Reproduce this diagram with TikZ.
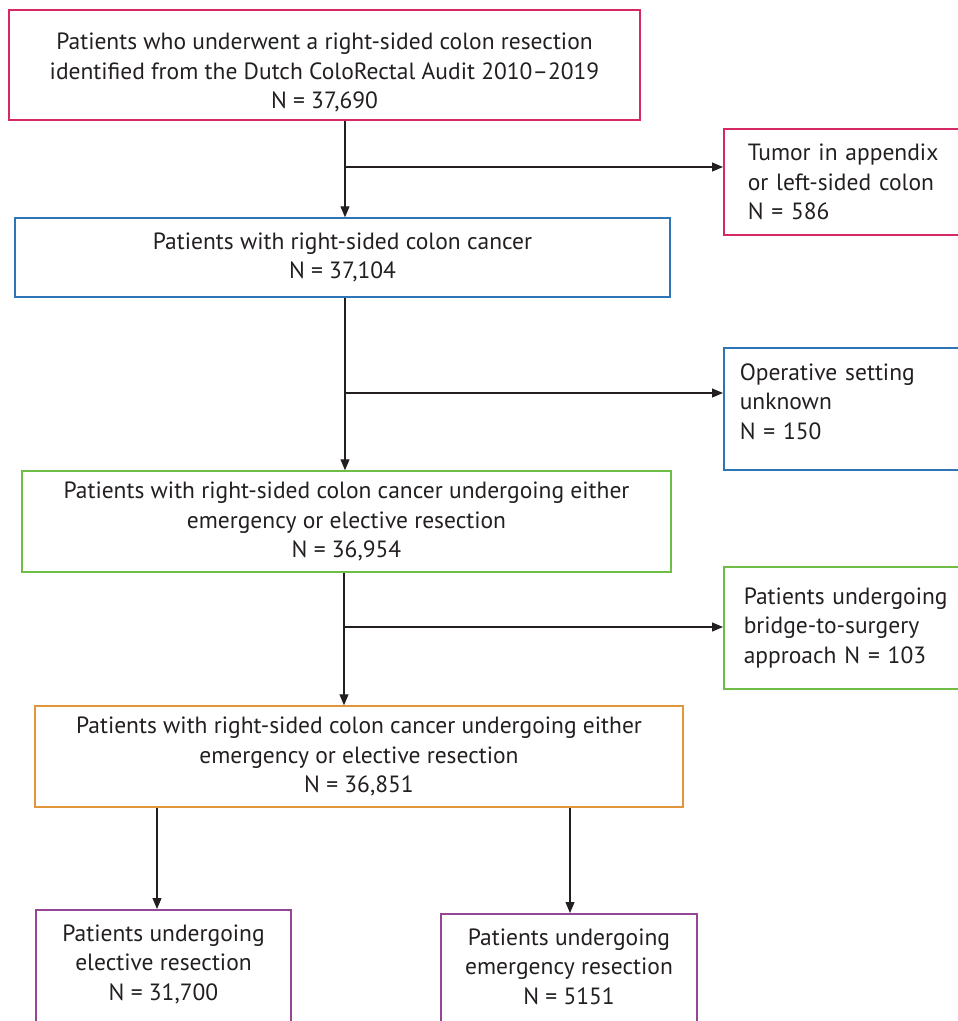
\documentclass[tikz,border=0pt]{standalone}
\usepackage{fontspec}
\setmainfont{PT Sans}
\usetikzlibrary{arrows.meta}

\definecolor{audred}{RGB}{214,40,100}
\definecolor{audblue}{RGB}{46,117,182}
\definecolor{audgreen}{RGB}{110,190,70}
\definecolor{audorange}{RGB}{226,150,60}
\definecolor{audpurple}{RGB}{150,70,150}
\definecolor{inkgrey}{RGB}{35,31,32}

\tikzset{
  flowbox/.style={draw, line width=1.5pt, align=center, inner sep=0pt,
    text=inkgrey, font=\fontsize{23.5}{29.5}\selectfont},
  sidebox/.style={flowbox, anchor=west, align=left, minimum width=300pt},
  lowbox/.style={flowbox, anchor=north, text depth=80pt, inner ysep=15pt},
  arr/.style={draw=inkgrey, line width=1.2pt, -{Triangle[length=11pt,width=9pt]}},
  branch/.style={draw=inkgrey, line width=1.2pt}
}

\begin{document}
\begin{tikzpicture}[x=1pt,y=-1pt]
    \useasboundingbox (0,0) rectangle (958,1021);
    \clip (0,0) rectangle (958,1021);
    \node[flowbox,draw=audred,minimum width=631pt,minimum height=110pt,text height=91pt] (cohort) at (324.5,65)
        {Patients who underwent a right-sided colon resection\\identified from the Dutch ColoRectal Audit 2010--2019\\N = 37,690};
    \node[flowbox,draw=audblue,minimum width=655pt,minimum height=79pt] (rightcc) at (342.5,257.5)
        {Patients with right-sided colon cancer\\N = 37,104};
    \node[flowbox,draw=audgreen,minimum width=649pt,minimum height=101pt] (setting) at (346.5,521.5)
        {Patients with right-sided colon cancer undergoing either\\emergency or elective resection\\N = 36,954};
    \node[flowbox,draw=audorange,minimum width=648pt,minimum height=101pt] (final) at (359,756.5)
        {Patients with right-sided colon cancer undergoing either\\emergency or elective resection\\N = 36,851};
    \node[sidebox,draw=audred,minimum height=106pt,inner xsep=24pt,text width=252pt] (appendix) at (723,182)
        {Tumor in appendix\\or left-sided colon\\N = 586};
    \node[sidebox,draw=audblue,minimum height=122pt,inner xsep=16pt,text width=268pt,text depth=74pt] (unknown) at (723,409)
        {Operative setting\\unknown\\N = 150};
    \node[sidebox,draw=audgreen,minimum height=122pt,inner xsep=20pt,text width=260pt] (bridge) at (723,628)
        {Patients undergoing\\bridge-to-surgery\\approach N = 103};
    \node[lowbox,draw=audpurple,minimum width=255pt] (elective) at (163.5,909)
        {Patients undergoing\\elective resection\\N = 31,700};
    \node[lowbox,draw=audpurple,minimum width=256pt] (emergency) at (569,913)
        {Patients undergoing\\emergency resection\\N = 5151};
    \coordinate (s1) at (345,167);
    \coordinate (s2) at (345,393);
    \coordinate (s3) at (344,627);
    \draw[arr] (cohort.south -| s1) -- (rightcc.north -| s1);
    \draw[arr] (s1) -- (s1 -| appendix.west);
    \draw[arr] (rightcc.south -| s2) -- (setting.north -| s2);
    \draw[arr] (s2) -- (s2 -| unknown.west);
    \draw[arr] (setting.south -| s3) -- (final.north -| s3);
    \draw[arr] (s3) -- (s3 -| bridge.west);
    \draw[arr] (final.south -| 157,0) -- (elective.north -| 157,0);
    \draw[arr] (final.south -| 570,0) -- (emergency.north -| 570,0);
\end{tikzpicture}
\end{document}
